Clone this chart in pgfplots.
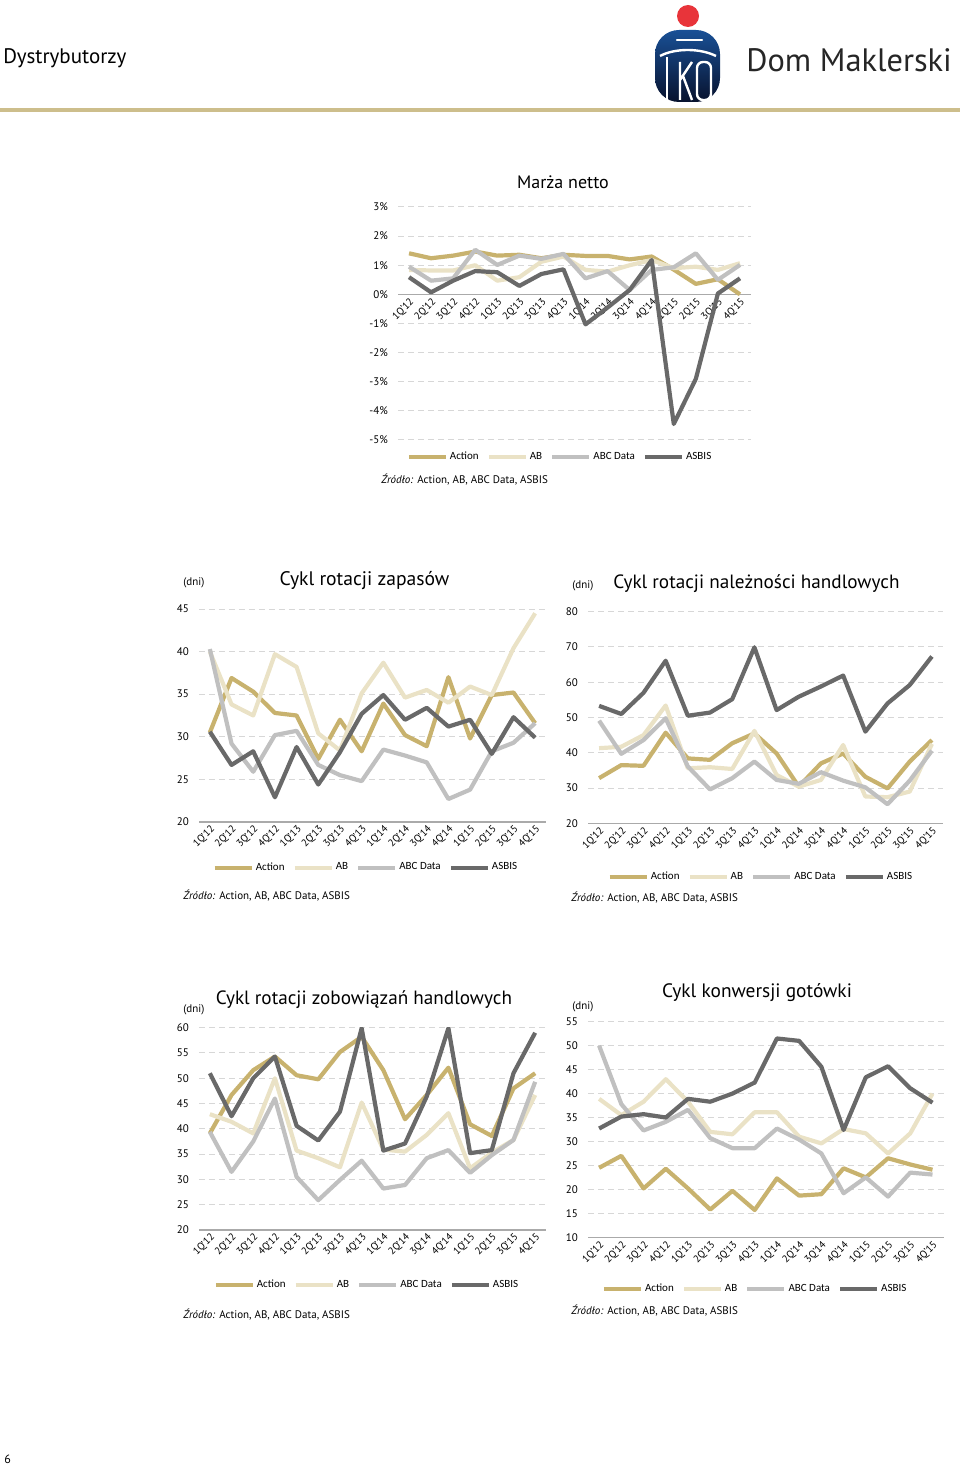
\documentclass[border=0pt]{standalone}
\usepackage{pgfplots}
\pgfplotsset{compat=1.18}
\usepackage{pgfplotstable}
\usepackage{fontspec}
\setmainfont{PT Sans}
\newfontfamily\calfont{Carlito}
\definecolor{cAction}{RGB}{200,178,110}
\definecolor{cAB}{RGB}{234,226,198}
\definecolor{cABC}{RGB}{192,192,192}
\definecolor{cASBIS}{RGB}{105,105,105}
\definecolor{cGold}{RGB}{205,190,140}
\definecolor{axisgray}{RGB}{170,170,170}
\definecolor{gridgray}{RGB}{215,215,215}
\definecolor{pkored}{RGB}{232,52,58}
\definecolor{pkoblue}{RGB}{25,80,150}
\definecolor{pkonavy}{RGB}{8,18,45}

\pgfplotstableread{
x action ab abc asbis
0 1.41 0.84 0.95 0.59
1 1.24 0.82 0.47 0.07
2 1.33 0.82 0.55 0.47
3 1.47 1.00 1.53 0.80
4 1.33 0.47 1.01 0.76
5 1.36 0.59 1.33 0.29
6 1.24 1.12 1.22 0.70
7 1.36 1.30 1.39 0.86
8 1.32 0.84 0.55 -1.03
9 1.32 0.78 0.80 -0.45
10 1.20 1.00 0.15 0.15
11 1.30 1.18 0.84 1.18
12 0.85 0.90 0.93 -4.45
13 0.36 0.95 1.41 -2.90
14 0.52 0.84 0.50 0.03
15 0.00 1.07 1.01 0.55
}\tabMarza

\pgfplotstableread{
x action ab abc asbis
0 30.5 40.0 40.3 30.6
1 36.9 33.8 29.2 26.7
2 35.3 32.5 25.9 28.3
3 32.8 39.7 30.2 22.9
4 32.5 38.2 30.7 28.8
5 27.4 30.4 26.7 24.4
6 32.0 28.4 25.5 28.2
7 28.3 35.1 24.8 32.7
8 33.9 38.7 28.5 34.9
9 30.2 34.6 27.8 32.0
10 28.9 35.5 27.0 33.4
11 37.0 34.0 22.7 31.2
12 29.8 35.9 23.8 32.0
13 34.9 34.9 28.3 28.0
14 35.2 40.4 29.3 32.3
15 31.6 44.5 31.6 29.9
}\tabZapasy

\pgfplotstableread{
x action ab abc asbis
0 32.8 41.3 49.1 53.3
1 36.5 41.7 39.7 51.0
2 36.3 45.0 43.6 57.0
3 45.7 53.4 49.8 66.1
4 38.4 35.6 36.1 50.5
5 38.0 35.9 29.6 51.4
6 42.7 35.4 32.8 55.2
7 45.5 46.2 37.5 69.9
8 39.8 33.7 32.3 52.1
9 30.4 30.4 31.2 55.9
10 37.0 32.3 34.5 58.8
11 39.8 42.2 32.1 61.9
12 33.2 27.6 30.2 46.0
13 29.9 27.4 25.4 54.0
14 37.5 29.0 32.1 59.2
15 43.6 42.5 40.6 67.3
}\tabNaleznosci

\pgfplotstableread{
x action ab abc asbis
0 39.1 42.9 39.4 51.0
1 46.7 41.4 31.5 42.5
2 51.6 39.1 37.5 50.0
3 54.3 50.0 46.0 54.3
4 50.6 35.7 30.5 40.6
5 49.8 34.2 25.9 37.7
6 55.2 32.4 29.9 43.4
7 58.2 45.2 33.7 59.9
8 51.6 35.9 28.2 35.7
9 41.9 35.5 28.9 37.1
10 46.7 38.8 34.2 46.4
11 52.1 43.1 35.8 59.9
12 40.9 32.2 31.3 35.2
13 38.6 35.3 34.8 35.8
14 48.0 37.8 37.8 51.0
15 51.0 46.7 49.3 59.0
}\tabZobowiazania

\pgfplotstableread{
x action ab abc asbis
0 24.5 38.9 50.0 32.7
1 27.0 35.5 37.8 35.2
2 20.2 38.3 32.3 35.7
3 24.3 43.0 34.1 35.0
4 20.2 38.3 36.6 38.9
5 15.8 32.0 30.7 38.3
6 19.7 31.5 28.6 40.0
7 15.7 36.1 28.6 42.3
8 22.3 36.1 32.7 51.5
9 18.7 31.0 30.4 51.0
10 19.0 29.6 27.5 45.6
11 24.4 32.6 19.2 32.4
12 22.5 31.7 22.5 43.4
13 26.5 27.5 18.5 45.7
14 25.2 31.7 23.5 41.1
15 24.1 40.0 23.1 38.1
}\tabGotowka

\pgfplotsset{
  chart/.style={
    scale only axis, anchor=north west,
    xmin=-0.5, xmax=15.5,
    xtick={0,...,15},
    xticklabels={1Q'12,2Q'12,3Q'12,4Q'12,1Q'13,2Q'13,3Q'13,4Q'13,1Q'14,2Q'14,3Q'14,4Q'14,1Q'15,2Q'15,3Q'15,4Q'15},
    x tick label style={rotate=45, anchor=north east, inner sep=0.8pt, font=\fontsize{5.1}{6}\selectfont},
    y tick label style={font=\fontsize{5.5}{6}\selectfont, xshift=-1.5pt},
    /pgf/number format/assume math mode=true,
    axis y line*=left,
    y axis line style={draw=none},
    x axis line style={draw=axisgray, line width=0.8pt, -},
    major tick length=0pt,
    ymajorgrids,
    grid style={dash pattern=on 3pt off 2pt, draw=gridgray, line width=0.5pt},
    legend columns=4,
    legend style={draw=none, fill=none, font=\calfont\fontsize{5.5}{6}\selectfont, anchor=center, inner sep=0pt,
      nodes={inner sep=1pt},
      /tikz/every even column/.append style={column sep=3pt}},
    legend image code/.code={\draw[##1] (0pt,0pt) -- (18.5pt,0pt);},
    every axis plot/.append style={line width=2.1pt, no markers, line join=round},
  },
}

\newcommand{\fourseries}[1]{%
  \addplot[cAction] table[x=x,y=action]{#1};
  \addplot[cAB] table[x=x,y=ab]{#1};
  \addplot[cABC] table[x=x,y=abc]{#1};
  \addplot[cASBIS] table[x=x,y=asbis]{#1};
  \legend{Action,AB,ABC Data,ASBIS}%
}

\newcommand{\src}{\textit{Źródło:} Action, AB, ABC Data, ASBIS}

\begin{document}
\begin{tikzpicture}[x=0.5pt,y=-0.5pt]
\path[use as bounding box] (0,0) rectangle (960,1466);

% header
\node[anchor=west, font=\fontsize{10.5}{12}\selectfont, inner sep=0pt] at (3,58) {Dystrybutorzy};
\draw[cGold, line width=1.7pt] (0,110) -- (960,110);
% logo
\fill[pkored] (688,16) circle (5.5pt);
\shade[top color=pkoblue, bottom color=pkonavy, rounded corners=12pt] (655,102) -- (655,30) -- (720,30) -- (720,102) -- cycle;
\draw[white, line width=1.2pt, line cap=round] (677,40) -- (702,40);
\draw[white, line width=1.2pt] (660,56) .. controls (675,48) and (700,48) .. (716,56);
\draw[white, line width=1.2pt] (667,57) -- (667,100);
\draw[white, line width=1.2pt] (680,62) -- (680,100) (680,80) -- (692,62) (683,76) -- (692,100);
\draw[white, line width=1.2pt, rounded corners=3pt] (697,62) rectangle (711,100);
\node[anchor=base west, font=\fontsize{16.2}{19}\selectfont, text=black!85, inner sep=0pt] at (746,72) {Dom Maklerski};

% page number
\node[anchor=base west, font=\fontsize{6}{7}\selectfont, inner sep=0pt] at (4,1463) {6};

% ---------- Chart 1: Marza netto
\node[font=\fontsize{9}{11}\selectfont, inner sep=0pt] at (563,182) {Marża netto};
\begin{axis}[chart, at={(199pt,-103.5pt)}, width=176.5pt, height=116.5pt,
  ymin=-5, ymax=3, ytick={-5,...,3},
  yticklabels={-5\%,-4\%,-3\%,-2\%,-1\%,0\%,1\%,2\%,3\%},
  axis x line*=middle,
  legend style={at={(0.459,-0.073)}}]
\fourseries{\tabMarza}
\end{axis}
\node[anchor=west, font=\fontsize{5.5}{6}\selectfont, inner sep=0pt] at (381,480) {\src};

% ---------- Chart 2: zapasy
\node[anchor=west, font=\fontsize{5.5}{6}\selectfont, inner sep=0pt] at (183,583) {(dni)};
\node[font=\fontsize{9.8}{12}\selectfont, inner sep=0pt] at (364.5,581) {Cykl rotacji zapasów};
\begin{axis}[chart, at={(99.5pt,-304.5pt)}, width=173.5pt, height=106.5pt,
  ymin=20, ymax=45, ytick={20,25,...,45},
  axis x line*=bottom,
  legend style={at={(0.481,-0.215)}}]
\fourseries{\tabZapasy}
\end{axis}
\node[anchor=west, font=\fontsize{5.5}{6}\selectfont, inner sep=0pt] at (183,896) {\src};

% ---------- Chart 3: naleznosci
\node[anchor=west, font=\fontsize{5.5}{6}\selectfont, inner sep=0pt] at (572,586) {(dni)};
\node[font=\fontsize{9.6}{12}\selectfont, inner sep=0pt] at (756.5,584) {Cykl rotacji należności handlowych};
\begin{axis}[chart, at={(294pt,-305.85pt)}, width=177.5pt, height=105.8pt,
  ymin=20, ymax=80, ytick={20,30,...,80},
  axis x line*=bottom,
  legend style={at={(0.487,-0.254)}}]
\fourseries{\tabNaleznosci}
\end{axis}
\node[anchor=west, font=\fontsize{5.5}{6}\selectfont, inner sep=0pt] at (571,898) {\src};

% ---------- Chart 4: zobowiazania
\node[anchor=west, font=\fontsize{5.5}{6}\selectfont, inner sep=0pt] at (183,1010) {(dni)};
\node[font=\fontsize{9.6}{12}\selectfont, inner sep=0pt] at (364,1000) {Cykl rotacji zobowiązań handlowych};
\begin{axis}[chart, at={(99.5pt,-513.85pt)}, width=173.5pt, height=101.15pt,
  ymin=20, ymax=60, ytick={20,25,...,60},
  axis x line*=bottom,
  legend style={at={(0.484,-0.272)}}]
\fourseries{\tabZobowiazania}
\end{axis}
\node[anchor=west, font=\fontsize{5.5}{6}\selectfont, inner sep=0pt] at (183,1315) {\src};

% ---------- Chart 5: gotowka
\node[anchor=west, font=\fontsize{5.5}{6}\selectfont, inner sep=0pt] at (572,1007) {(dni)};
\node[font=\fontsize{9.7}{12}\selectfont, inner sep=0pt] at (757,993) {Cykl konwersji gotówki};
\begin{axis}[chart, at={(294pt,-510.85pt)}, width=177.8pt, height=107.8pt,
  ymin=10, ymax=55, ytick={10,15,...,55},
  axis x line*=bottom,
  legend style={at={(0.470,-0.240)}}]
\fourseries{\tabGotowka}
\end{axis}
\node[anchor=west, font=\fontsize{5.5}{6}\selectfont, inner sep=0pt] at (571,1311) {\src};

\end{tikzpicture}
\end{document}
